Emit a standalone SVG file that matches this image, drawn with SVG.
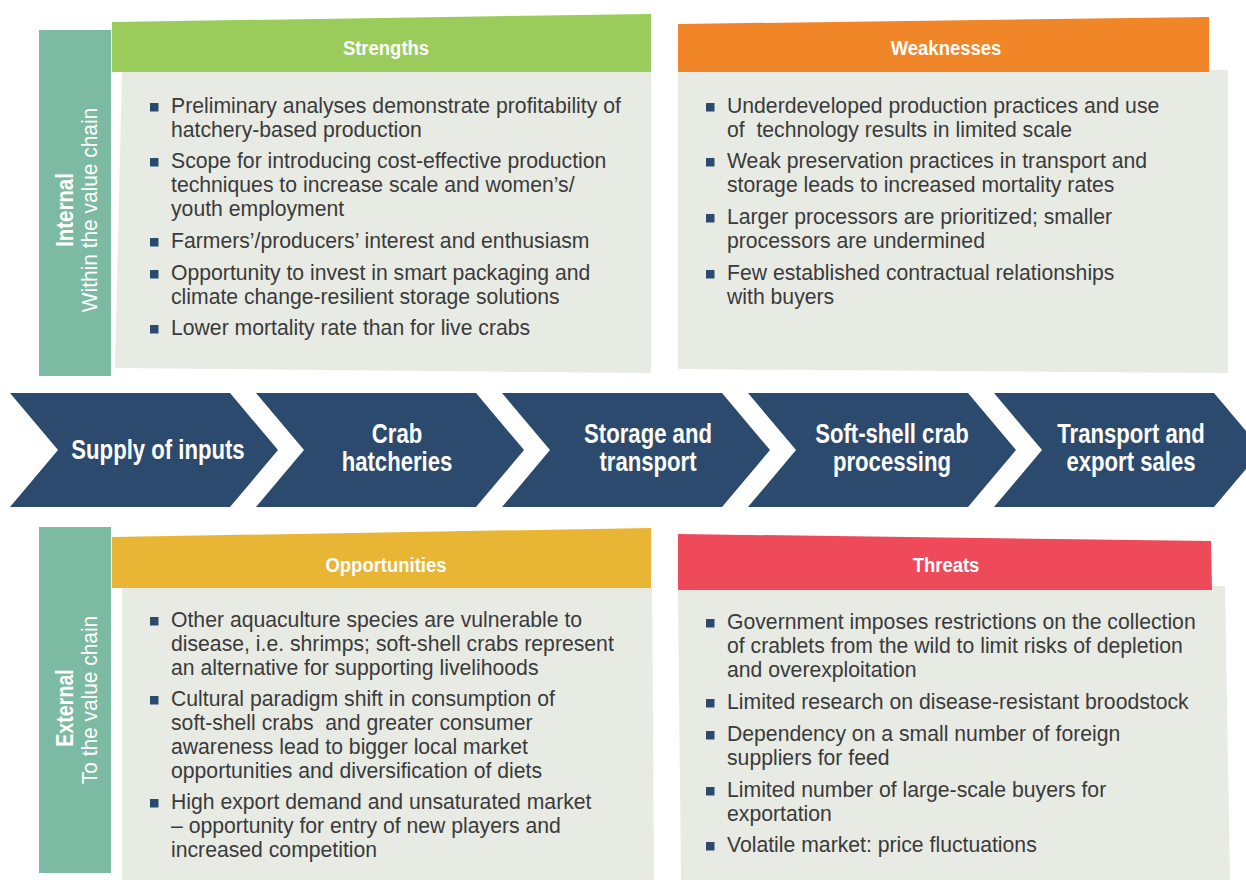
<svg xmlns="http://www.w3.org/2000/svg" width="1246" height="880" viewBox="0 0 1246 880">
<style>
.side{fill:#7dbaa3}
.panel{fill:#e8eae4}
.body{font-family:"Liberation Sans",Arial,sans-serif;font-size:21.2px;fill:#3a3a3a}
.pre{white-space:pre}
.bul{fill:#2c4a6e}
.hdr{font-family:"Liberation Sans",Arial,sans-serif;font-weight:bold;font-size:21px;fill:#ffffff;text-anchor:middle}
.chev{fill:#2c4a6e}
.ctext{font-family:"Liberation Sans",Arial,sans-serif;font-weight:bold;font-size:27px;fill:#ffffff;text-anchor:middle}
.sideb{font-family:"Liberation Sans",Arial,sans-serif;font-weight:bold;font-size:24px;fill:#ffffff;text-anchor:middle}
.sidel{font-family:"Liberation Sans",Arial,sans-serif;font-size:22px;fill:#ffffff;text-anchor:middle}
</style>
<rect width="1246" height="880" fill="#ffffff"/>

<g id="internal">
<rect class="side" x="39" y="30" width="72" height="346"/>
<text class="sideb" transform="translate(73,210) rotate(-90) scale(0.85,1)">Internal</text>
<text class="sidel" transform="translate(97,210) rotate(-90) scale(0.95,1)">Within the value chain</text>
</g>

<g id="external">
<rect class="side" x="39" y="527" width="72" height="346"/>
<text class="sideb" transform="translate(73,708) rotate(-90) scale(0.82,1)">External</text>
<text class="sidel" transform="translate(97,700) rotate(-90) scale(0.95,1)">To the value chain</text>
</g>

<g id="strengths">
<polygon class="panel" points="122,72 651,72 651,373 115,368"/>
<polygon fill="#99cc5a" points="112,22 651,14 651,72 112,72"/>
<text class="hdr" transform="translate(386,55) scale(0.88,1)">Strengths</text>
<rect class="bul" x="150" y="103" width="8.5" height="8.5"/>
<text class="body" x="171" y="113">Preliminary analyses demonstrate profitability of</text>
<text class="body" x="171" y="137">hatchery-based production</text>
<rect class="bul" x="150" y="158" width="8.5" height="8.5"/>
<text class="body" x="171" y="168">Scope for introducing cost-effective production</text>
<text class="body" x="171" y="192">techniques to increase scale and women’s/</text>
<text class="body" x="171" y="216">youth employment</text>
<rect class="bul" x="150" y="238" width="8.5" height="8.5"/>
<text class="body" x="171" y="248">Farmers’/producers’ interest and enthusiasm</text>
<rect class="bul" x="150" y="270" width="8.5" height="8.5"/>
<text class="body" x="171" y="280">Opportunity to invest in smart packaging and</text>
<text class="body" x="171" y="304">climate change-resilient storage solutions</text>
<rect class="bul" x="150" y="325" width="8.5" height="8.5"/>
<text class="body" x="171" y="335">Lower mortality rate than for live crabs</text>
</g>

<g id="weaknesses">
<polygon class="panel" points="678,72 1228,70 1228,373 678,369"/>
<polygon fill="#f08627" points="678,24 1209,17 1209,72 678,72"/>
<text class="hdr" transform="translate(946,55) scale(0.88,1)">Weaknesses</text>
<rect class="bul" x="706" y="103" width="8.5" height="8.5"/>
<text class="body pre" x="727" y="113">Underdeveloped production practices and use</text>
<text class="body pre" x="727" y="137">of  technology results in limited scale</text>
<rect class="bul" x="706" y="158" width="8.5" height="8.5"/>
<text class="body" x="727" y="168">Weak preservation practices in transport and</text>
<text class="body" x="727" y="192">storage leads to increased mortality rates</text>
<rect class="bul" x="706" y="214" width="8.5" height="8.5"/>
<text class="body" x="727" y="224">Larger processors are prioritized; smaller</text>
<text class="body" x="727" y="248">processors are undermined</text>
<rect class="bul" x="706" y="270" width="8.5" height="8.5"/>
<text class="body" x="727" y="280">Few established contractual relationships</text>
<text class="body" x="727" y="304">with buyers</text>
</g>

<g id="opportunities">
<polygon class="panel" points="122,588 652,588 654,880 122,880"/>
<polygon fill="#e8b535" points="112,537 651,528 651,588 112,588"/>
<text class="hdr" transform="translate(386,572) scale(0.88,1)">Opportunities</text>
<rect class="bul" x="150" y="617" width="8.5" height="8.5"/>
<text class="body" x="171" y="627">Other aquaculture species are vulnerable to</text>
<text class="body" x="171" y="651">disease, i.e. shrimps; soft-shell crabs represent</text>
<text class="body" x="171" y="675">an alternative for supporting livelihoods</text>
<rect class="bul" x="150" y="696" width="8.5" height="8.5"/>
<text class="body pre" x="171" y="706">Cultural paradigm shift in consumption of</text>
<text class="body pre" x="171" y="730">soft-shell crabs  and greater consumer</text>
<text class="body" x="171" y="754">awareness lead to bigger local market</text>
<text class="body" x="171" y="778">opportunities and diversification of diets</text>
<rect class="bul" x="150" y="799" width="8.5" height="8.5"/>
<text class="body" x="171" y="809">High export demand and unsaturated market</text>
<text class="body" x="171" y="833">– opportunity for entry of new players and</text>
<text class="body" x="171" y="857">increased competition</text>
</g>

<g id="threats">
<polygon class="panel" points="678,590 1225,586 1230,880 681,880"/>
<polygon fill="#ee4a5a" points="678,534 1211,541 1212,590 678,590"/>
<text class="hdr" transform="translate(946,572) scale(0.88,1)">Threats</text>
<rect class="bul" x="706" y="619" width="8.5" height="8.5"/>
<text class="body" x="727" y="629">Government imposes restrictions on the collection</text>
<text class="body" x="727" y="653">of crablets from the wild to limit risks of depletion</text>
<text class="body" x="727" y="677">and overexploitation</text>
<rect class="bul" x="706" y="699" width="8.5" height="8.5"/>
<text class="body" x="727" y="709">Limited research on disease-resistant broodstock</text>
<rect class="bul" x="706" y="731" width="8.5" height="8.5"/>
<text class="body" x="727" y="741">Dependency on a small number of foreign</text>
<text class="body" x="727" y="765">suppliers for feed</text>
<rect class="bul" x="706" y="787" width="8.5" height="8.5"/>
<text class="body" x="727" y="797">Limited number of large-scale buyers for</text>
<text class="body" x="727" y="821">exportation</text>
<rect class="bul" x="706" y="842" width="8.5" height="8.5"/>
<text class="body" x="727" y="852">Volatile market: price fluctuations</text>
</g>

<g id="connectors"></g>

<g id="step1">
<polygon class="chev" points="10,393 230,393 278,450 230,507 10,507 58,450"/>
<text class="ctext" transform="translate(158,459) scale(0.82,1)">Supply of inputs</text>
</g>
<g id="step2">
<polygon class="chev" points="256,393 476,393 524,450 476,507 256,507 304,450"/>
<text class="ctext" transform="translate(397,443) scale(0.82,1)">Crab</text>
<text class="ctext" transform="translate(397,471) scale(0.82,1)">hatcheries</text>
</g>
<g id="step3">
<polygon class="chev" points="502,393 722,393 770,450 722,507 502,507 550,450"/>
<text class="ctext" transform="translate(648,443) scale(0.82,1)">Storage and</text>
<text class="ctext" transform="translate(648,471) scale(0.82,1)">transport</text>
</g>
<g id="step4">
<polygon class="chev" points="748,393 968,393 1016,450 968,507 748,507 796,450"/>
<text class="ctext" transform="translate(892,443) scale(0.82,1)">Soft-shell crab</text>
<text class="ctext" transform="translate(892,471) scale(0.82,1)">processing</text>
</g>
<g id="step5">
<polygon class="chev" points="994,393 1214,393 1262,450 1214,507 994,507 1042,450"/>
<text class="ctext" transform="translate(1131,443) scale(0.82,1)">Transport and</text>
<text class="ctext" transform="translate(1131,471) scale(0.82,1)">export sales</text>
</g>
</svg>
